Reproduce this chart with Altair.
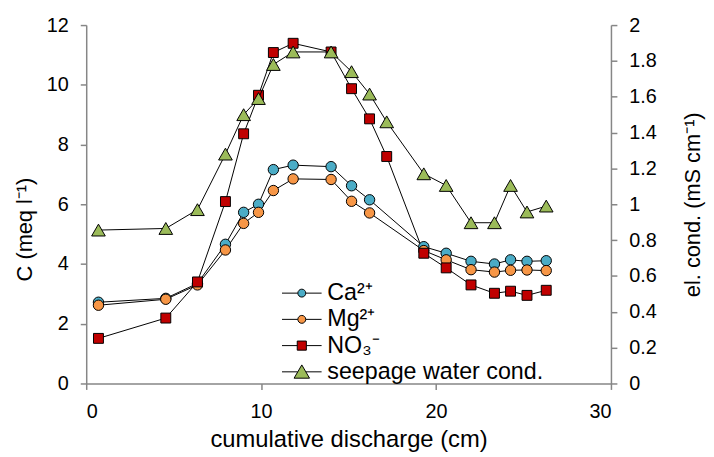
import altair as alt
import pandas as pd

# ---- data ----
x_ca_mg = [0.7, 4.55, 6.36, 7.96, 9.0, 9.85, 10.7, 11.83, 14.0, 15.17, 16.2,
           19.3, 20.58, 22.0, 23.34, 24.26, 25.2, 26.3]
ca = [2.72, 2.85, 3.35, 4.66, 5.73, 6.0, 7.16, 7.31, 7.26, 6.62, 6.15,
      4.58, 4.36, 4.09, 4.0, 4.14, 4.09, 4.11]
mg = [2.62, 2.82, 3.3, 4.47, 5.36, 5.73, 6.46, 6.85, 6.83, 6.1, 5.71,
      4.45, 4.14, 3.81, 3.73, 3.79, 3.8, 3.78]
x_all = [0.7, 4.55, 6.36, 7.96, 9.0, 9.85, 10.7, 11.83, 14.0, 15.17, 16.2, 17.18,
         19.3, 20.58, 22.0, 23.34, 24.26, 25.2, 26.3]
no3 = [1.51, 2.19, 3.4, 6.09, 8.36, 9.65, 11.08, 11.39, 11.1, 9.87, 8.86, 7.6,
       4.36, 3.87, 3.3, 3.02, 3.09, 2.95, 3.12]
cond = [0.856, 0.865, 0.97, 1.28, 1.50, 1.59, 1.78, 1.85, 1.85, 1.74, 1.615, 1.46,
        1.17, 1.105, 0.897, 0.897, 1.105, 0.957, 0.99]

series_keys = ["Ca", "Mg", "NO3", "cond"]
series_labels = ["Ca²⁺", "Mg²⁺", "NO₃⁻", "seepage water cond."]
fills = ["#4BACC6", "#F79646", "#C00000", "#9BBB59"]
shapes = ["circle", "circle", "square", "triangle-up"]
sizes = [110, 110, 100, 190]

df_ca = pd.DataFrame({"series": "Ca", "x": x_ca_mg, "y": ca})
df_mg = pd.DataFrame({"series": "Mg", "x": x_ca_mg, "y": mg})
df_no3 = pd.DataFrame({"series": "NO3", "x": x_all, "y": no3})
df_cond = pd.DataFrame({"series": "cond", "x": x_all, "y": cond})
df_left = pd.concat([df_ca, df_mg, df_no3], ignore_index=True)
df_legend = pd.concat([df_ca, df_mg, df_no3, df_cond], ignore_index=True)

FONT = "Liberation Sans"
AX = "#868686"

label_expr = " : ".join(
    f"datum.value == '{k}' ? '{lab}'" for k, lab in zip(series_keys[:-1], series_labels[:-1])
) + f" : '{series_labels[-1]}'"

# legend glyphs: short line with the marker on it (unit = sqrt(symbolSize)/2 px)
circ = "M-5,0H-1M1,0H5M-1,0A1,1,0,1,0,1,0A1,1,0,1,0,-1,0Z"
sq = "M-5,0H-1.15M1.15,0H5M-1.15,-1.15H1.15V1.15H-1.15Z"
tri = "M-5,0H-1.05M1.05,0H5M0,-1.75L1.95,1.6H-1.95Z"
legend_paths = [circ, circ, sq, tri]

legend = alt.Legend(
    orient="none", legendX=206, legendY=259, title=None, padding=0,
    labelFont=FONT, labelFontSize=23.5, labelColor="black", labelOffset=14,
    labelLimit=500, labelExpr=label_expr, symbolSize=64,
    symbolStrokeWidth=1, symbolOpacity=1, rowPadding=1.5,
)

xenc = alt.X("x:Q", scale=alt.Scale(domain=[0, 30], nice=False),
             axis=alt.Axis(values=[0, 10, 20, 30], title="cumulative discharge (cm)",
                           titleX=265, titleY=57, titleBaseline="middle",
                           titleFontSize=24))

yleft = alt.Y("y:Q", scale=alt.Scale(domain=[0, 12], nice=False),
              axis=alt.Axis(values=list(range(0, 13, 2)), title="C (meq l⁻¹)",
                            titleAngle=270, titleX=-62, titleY=206,
                            titleBaseline="middle", titleAlign="center"))
yright = alt.Y("y:Q", scale=alt.Scale(domain=[0, 2], nice=False),
               axis=alt.Axis(orient="right", values=[i / 10 for i in range(0, 21, 2)],
                             format="~g", title="el. cond. (mS cm⁻¹)",
                             titleAngle=270, titleX=82, titleY=181,
                             titleBaseline="middle", titleAlign="center"))


def line(df, y):
    return alt.Chart(df).mark_line(color="black", strokeWidth=1).encode(
        x=xenc, y=y, detail="series:N")


def pts(df, y, i):
    return alt.Chart(df).mark_point(
        filled=True, stroke="black", strokeWidth=1, opacity=1,
        fill=fills[i], shape=shapes[i], size=sizes[i]).encode(x=xenc, y=y)


# invisible layer that only carries the legend
legend_layer = alt.Chart(df_legend).mark_point(opacity=0, strokeWidth=1).encode(
    x=xenc, y=yleft,
    fill=alt.Fill("series:N", scale=alt.Scale(domain=series_keys, range=fills),
                  legend=legend),
    stroke=alt.Stroke("series:N",
                      scale=alt.Scale(domain=series_keys, range=["black"] * 4),
                      legend=legend),
    shape=alt.Shape("series:N", scale=alt.Scale(domain=series_keys, range=legend_paths),
                    legend=legend),
)

left = alt.layer(
    line(df_left, yleft),
    pts(df_ca, yleft, 0),
    pts(df_mg, yleft, 1),
    pts(df_no3, yleft, 2),
    legend_layer,
)
right = alt.layer(
    line(df_cond, yright),
    pts(df_cond, yright, 3),
)

chart = alt.layer(left, right).resolve_scale(y="independent").properties(
    width=530, height=362,
    autosize=alt.AutoSizeParams(type="none"),
    padding={"left": 79, "top": 15, "right": 96, "bottom": 70},
).configure_view(stroke=None).configure_axis(
    grid=False, domainColor=AX, tickColor=AX, domainWidth=1.5, tickWidth=1.5,
    tickSize=6, labelFont=FONT, labelFontSize=20, labelColor="black",
    labelPadding=12, titleFont=FONT, titleFontSize=22, titleColor="black",
    titleFontWeight="normal",
)

chart.save("out.html", embed_options={"renderer": "svg", "actions": False})
